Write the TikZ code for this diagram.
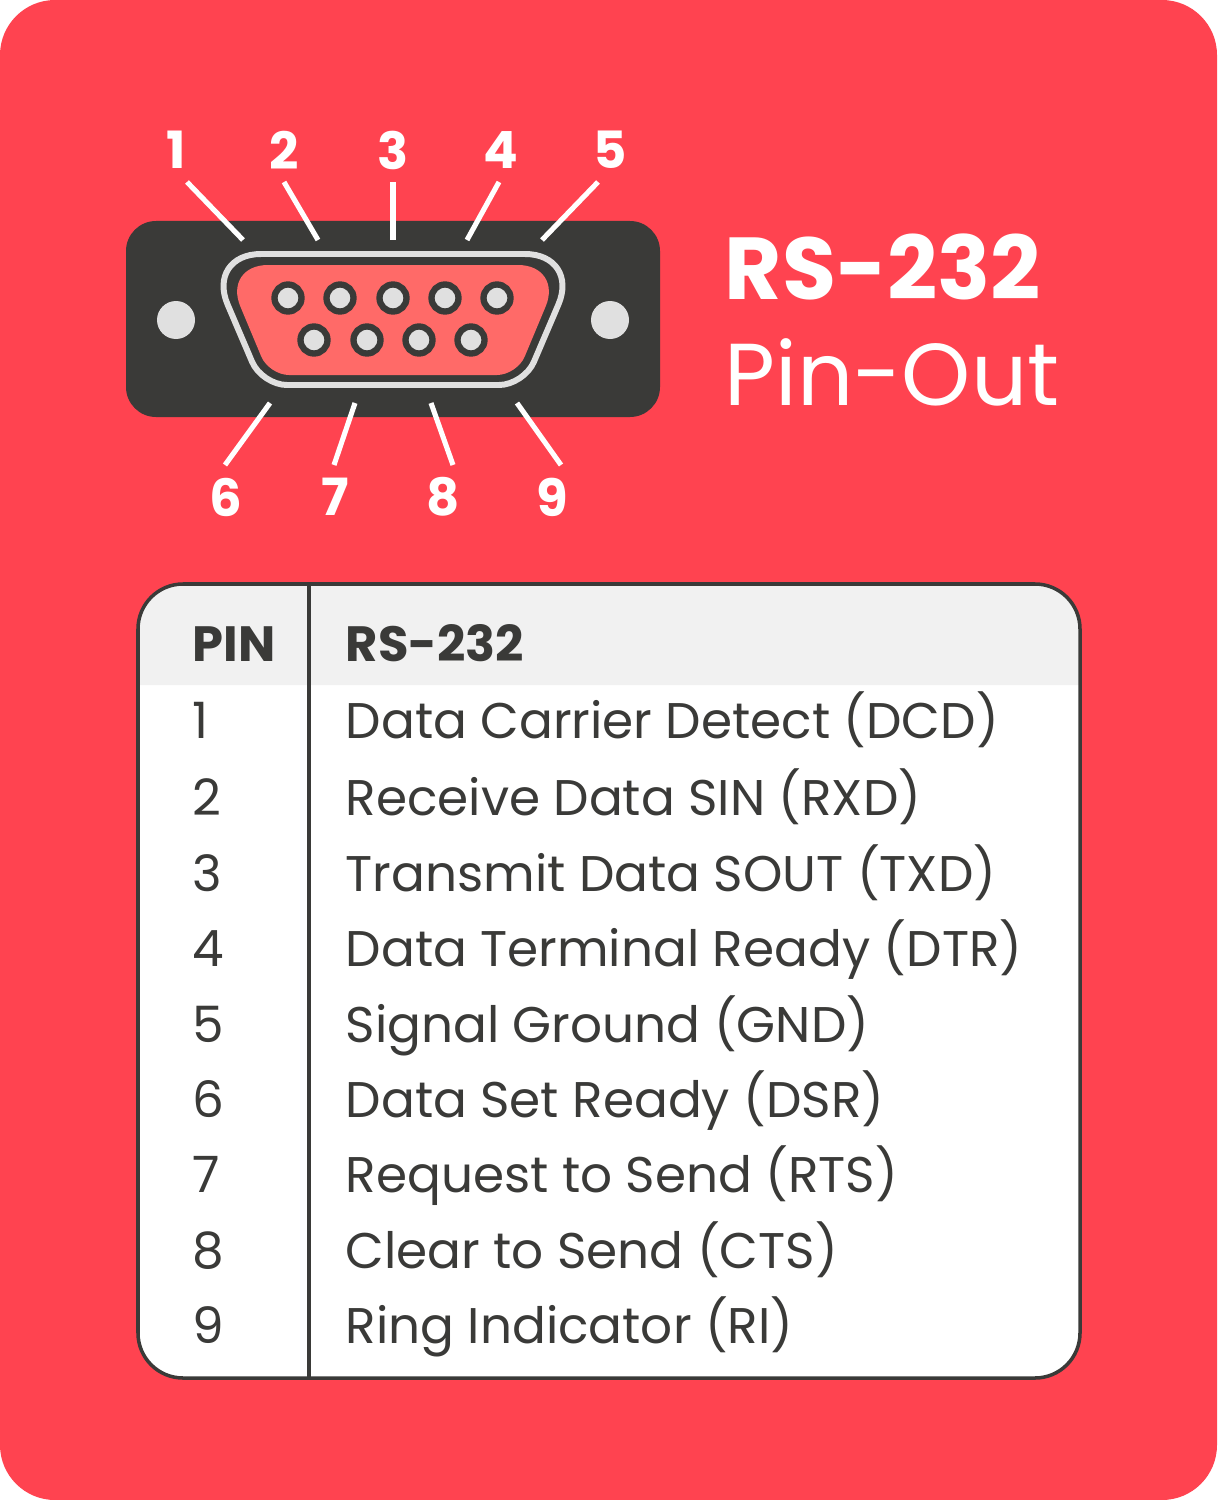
\documentclass[tikz,border=0pt]{standalone}
\usepackage{fontspec}
\setmainfont{Poppins}
\definecolor{bgred}{HTML}{FF4350}
\definecolor{plugred}{HTML}{FF6A68}
\definecolor{shelldark}{HTML}{3A3A38}
\definecolor{pingrey}{HTML}{E0E0E0}
\definecolor{headgrey}{HTML}{F1F1F1}
\tikzset{
  pinnum/.style={text=white, font=\bfseries\fontsize{14.6}{16}\selectfont, inner sep=0pt},
  leader/.style={draw=white, line width=1.45pt},
  cellhead/.style={anchor=base west, text=shelldark, inner sep=0pt, font=\bfseries\fontsize{14.1}{16}\selectfont},
  cell/.style={anchor=base west, text=shelldark, inner sep=0pt, font=\fontsize{14.25}{18}\selectfont},
}
\begin{document}
\begin{tikzpicture}[x=0.01cm,y=-0.01cm]
	\useasboundingbox (0,0) rectangle (1217,1500);
	\fill[bgred, rounded corners=0.55cm] (0,0) rectangle (1217,1500);
	% connector body
	\fill[shelldark, rounded corners=0.3cm] (126,221) rectangle (660,417);
	\fill[pingrey] (176,320) circle [radius=19];
	\fill[pingrey] (610,320) circle [radius=19];
	\draw[pingrey, line width=1.7pt, fill=shelldark] (393,254) [rounded corners=0.55cm] -- (580,254) [rounded corners=0.25cm] -- (524,385) -- (262,385) [rounded corners=0.55cm] -- (206,254) -- cycle;
	\fill[plugred] (393,265) [rounded corners=0.45cm] -- (563,265) [rounded corners=0.2cm] -- (517,375) -- (269,375) [rounded corners=0.45cm] -- (223,265) -- cycle;
	% pins
	\foreach \x/\y in {288/298,340/298,393/298,445/298,497/298,314/340,367/340,419/340,471/340}
		\filldraw[fill=pingrey, draw=shelldark, line width=1.8pt] (\x,\y) circle [radius=13.5];
	% pin numbers and their leaders
	\foreach \n/\lx/\ly/\ax/\ay/\bx/\by in {1/176/150/187/182/243/240, 2/284/150/284/182/318/240, 3/393/150/393/182/393/240, 4/501/150/499/182/467/240, 5/610/150/598/182/542/240, 6/226/497/225/465/270/403, 7/335/497/334/465/355/403, 8/443/497/453/465/431/403, 9/552/497/561/465/517/403} {
		\node[pinnum] (num\n) at (\lx,\ly) {\n};
		\coordinate (from\n) at (\ax,\ay);
		\coordinate (to\n) at (\bx,\by);
		\draw[leader] (from\n) -- (to\n);
	}
	% title
	\node[anchor=base west, text=white, inner sep=0pt, font=\bfseries\fontsize{25}{28}\selectfont] (title) at (724,299) {RS-232};
	\node[anchor=base west, text=white, inner sep=0pt, font=\fontsize{25}{28}\selectfont] (subtitle) at (724,405) {Pin-Out};
	% table
	\fill[white, rounded corners=0.45cm] (138,584) rectangle (1080,1378);
	\fill[headgrey, rounded corners=0.45cm] (138,584) -- (1080,584) [sharp corners] -- (1080,685) -- (138,685) [rounded corners=0.45cm] -- cycle;
	\draw[shelldark, line width=1pt, rounded corners=0.45cm] (138,584) rectangle (1080,1378);
	\draw[shelldark, line width=0.9pt] (309,584) -- (309,1378);
	\node[cellhead] (pinhead) at (192,661) {PIN};
	\node[cellhead] (namehead) at (345,661) {RS-232};
	\foreach \n/\y/\txt in {1/738/Data Carrier Detect (DCD), 2/815/Receive Data SIN (RXD), 3/891/Transmit Data SOUT (TXD), 4/966/Data Terminal Ready (DTR), 5/1042/Signal Ground (GND), 6/1117/Data Set Ready (DSR), 7/1192/Request to Send (RTS), 8/1268/Clear to Send (CTS), 9/1343/Ring Indicator (RI)} {
		\node[cell] (pin\n) at (192,\y) {\n};
		\node[cell] (sig\n) at (345,\y) {\txt};
	}
\end{tikzpicture}
\end{document}
